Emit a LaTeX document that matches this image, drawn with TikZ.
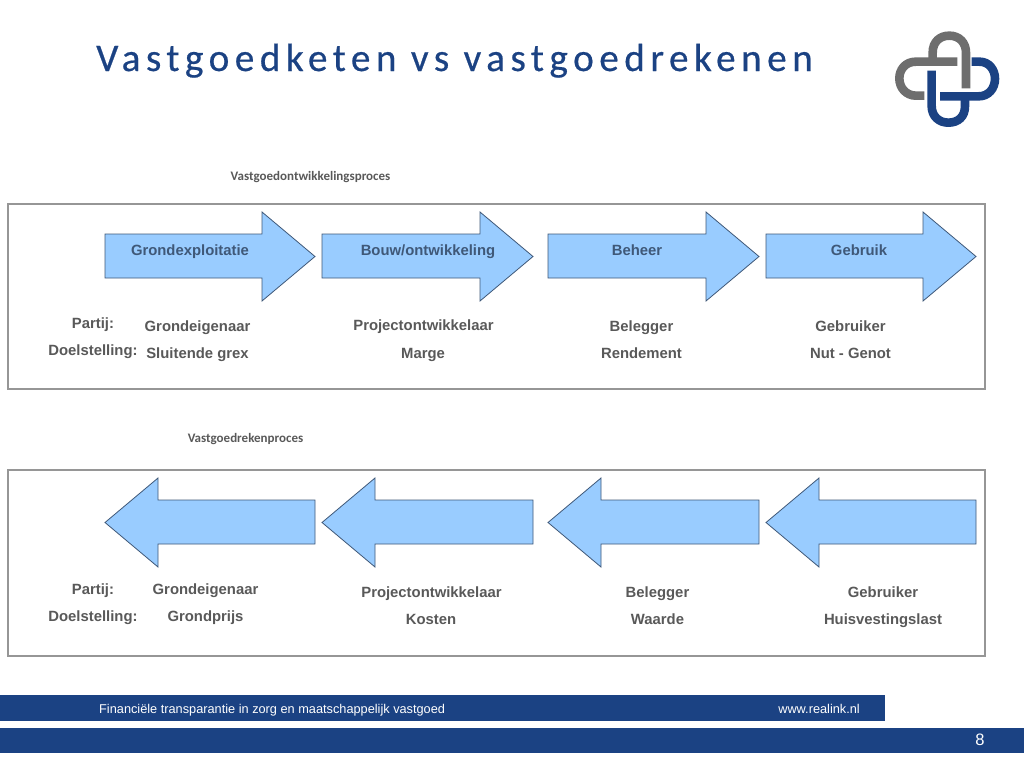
\documentclass[tikz,border=0pt]{standalone}
\usepackage{fontspec}
\setmainfont{Liberation Sans}
\newfontfamily\carlito{Carlito}
\newfontfamily\titlefont[LetterSpace=14,FakeBold=0.5]{Carlito}
\definecolor{navy}{HTML}{1B4283}
\definecolor{logogray}{HTML}{6E6E6E}
\definecolor{labelgray}{HTML}{595959}
\definecolor{arrowfill}{HTML}{99CCFF}
\definecolor{arrowline}{HTML}{3F5878}
\definecolor{framegray}{HTML}{969696}
\tikzset{
  lbl/.style={font=\fontsize{14.85}{16}\selectfont\bfseries, text=labelgray, inner sep=0pt},
  hdr/.style={font=\fontsize{14.85}{16}\selectfont\bfseries, text=arrowline, inner sep=0pt},
  sub/.style={font=\carlito\fontsize{13}{14}\selectfont\bfseries, text=labelgray, inner sep=0pt},
  foot/.style={font=\fontsize{12.75}{14}\selectfont, text=white, inner sep=0pt},
  frame/.style={draw=framegray, line width=2pt, fill=white},
  arrowshape/.style={draw=arrowline, line width=0.8pt, fill=arrowfill, line join=miter},
  bar/.style={fill=navy, draw=none},
  logoG/.style={draw=logogray, line width=8.6pt, line cap=butt},
  logoB/.style={draw=navy, line width=8.6pt, line cap=butt}
}
\newcommand{\rarrow}[2]{\draw[arrowshape] (#1,234)--(#2-53,234)--(#2-53,212)--(#2,256.5)--(#2-53,301)--(#2-53,278)--(#1,278)--cycle;}
\newcommand{\larrow}[2]{\draw[arrowshape] (#2,500)--(#1+53,500)--(#1+53,478)--(#1,522.5)--(#1+53,567)--(#1+53,544)--(#2,544)--cycle;}
\begin{document}
\begin{tikzpicture}[x=1pt,y=-1pt]
\useasboundingbox (0,0) rectangle (1024,768);
\fill[white] (0,0) rectangle (1024,768);

\node[anchor=base west, inner sep=0pt, text=navy, font=\titlefont\fontsize{39.2}{42}\selectfont] (title) at (96,71) {Vastgoedketen vs vastgoedrekenen};

% logo
\begin{scope}[shift={(880,20)}, x=0.3333pt, y=-0.3333pt]
  \draw[logoG] (232,125) -- (108,125) .. controls (75,125) and (58,150) .. (58,175) .. controls (58,203) and (78,227) .. (108,227) -- (133,227);
  \draw[logoG] (158,125) -- (158,98) .. controls (158,65) and (180,47) .. (208,47) .. controls (238,47) and (258,68) .. (258,98) -- (258,205);
  \draw[logoB] (275,125) -- (298,125) .. controls (328,125) and (345,150) .. (345,176) .. controls (345,205) and (326,229) .. (296,229) -- (180,229);
  \draw[logoB] (155,152) -- (155,258) .. controls (155,290) and (178,308) .. (205,308) .. controls (235,308) and (255,290) .. (255,258) -- (255,229);
\end{scope}

% headings
\node[sub, anchor=base] (h1) at (310.5,180) {Vastgoedontwikkelingsproces};
\node[sub, anchor=base] (h2) at (245.5,442) {Vastgoedrekenproces};

% frames
\draw[frame] (8,204) rectangle (985,389);
\draw[frame] (8,470) rectangle (985,656);

% top arrows
\rarrow{105}{315}
\rarrow{322}{533}
\rarrow{548}{759}
\rarrow{766}{976}
\node[hdr, anchor=base] (a1) at (190,255) {Grondexploitatie};
\node[hdr, anchor=base] (a2) at (428,255) {Bouw/ontwikkeling};
\node[hdr, anchor=base] (a3) at (637,255) {Beheer};
\node[hdr, anchor=base] (a4) at (859,255) {Gebruik};

% top labels
\node[lbl, anchor=base] (p1) at (93,328) {Partij:};
\node[lbl, anchor=base] (d1) at (93,355) {Doelstelling:};
\node[lbl, anchor=base] (t1) at (197.5,331) {Grondeigenaar};
\node[lbl, anchor=base] (t2) at (423.5,330) {Projectontwikkelaar};
\node[lbl, anchor=base] (t3) at (641.5,331) {Belegger};
\node[lbl, anchor=base] (t4) at (850.5,331) {Gebruiker};
\node[lbl, anchor=base] (u1) at (197.5,358) {Sluitende grex};
\node[lbl, anchor=base] (u2) at (423,358) {Marge};
\node[lbl, anchor=base] (u3) at (641.5,358) {Rendement};
\node[lbl, anchor=base] (u4) at (850.5,358) {Nut - Genot};

% bottom arrows
\larrow{105}{315}
\larrow{322}{533}
\larrow{548}{759}
\larrow{766}{976}

% bottom labels
\node[lbl, anchor=base] (p2) at (93,594) {Partij:};
\node[lbl, anchor=base] (d2) at (93,621) {Doelstelling:};
\node[lbl, anchor=base] (b1) at (205.5,594) {Grondeigenaar};
\node[lbl, anchor=base] (b2) at (431.5,597) {Projectontwikkelaar};
\node[lbl, anchor=base] (b3) at (657.5,597) {Belegger};
\node[lbl, anchor=base] (b4) at (883,597) {Gebruiker};
\node[lbl, anchor=base] (c1) at (205.5,621) {Grondprijs};
\node[lbl, anchor=base] (c2) at (431,624) {Kosten};
\node[lbl, anchor=base] (c3) at (657.5,624) {Waarde};
\node[lbl, anchor=base] (c4) at (883,624) {Huisvestingslast};

% footer
\fill[bar] (0,695) rectangle (885,721);
\fill[bar] (0,728) rectangle (1024,753);
\node[foot, anchor=base west] (f1) at (99,713) {Financiële transparantie in zorg en maatschappelijk vastgoed};
\node[foot, anchor=base east] (f2) at (860,713) {www.realink.nl};
\node[anchor=base, inner sep=0pt, text=white, font=\fontsize{16.5}{18}\selectfont] (pg) at (980,745) {8};
\end{tikzpicture}
\end{document}
